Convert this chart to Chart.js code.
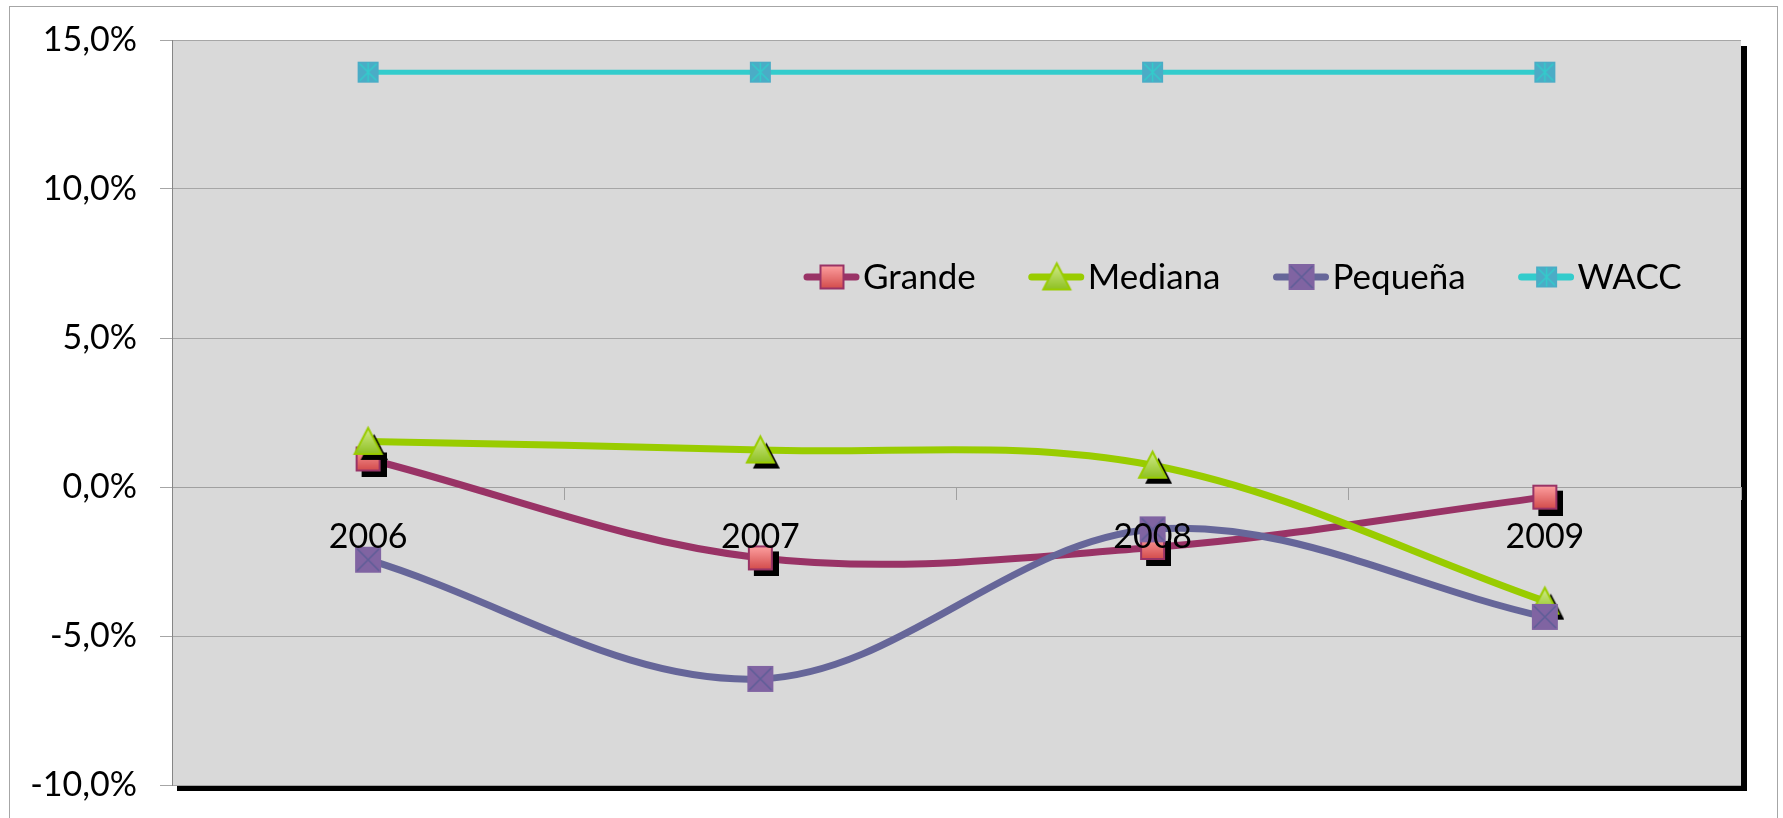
<!DOCTYPE html>
<html>
<head>
<meta charset="utf-8">
<script src="https://cdn.jsdelivr.net/npm/chart.js@4"></script>
<style>
html, body { margin: 0; padding: 0; background: #fff; }
</style>
</head>
<body>
<canvas id="myChart" width="1783" height="818"></canvas>
<script>
// datos (%)
var years = ['2006', '2007', '2008', '2009'];
var grande = [0.94, -2.38, -2.03, -0.34];
var mediana = [1.53, 1.24, 0.73, -3.83];
var pequena = [-2.44, -6.44, -1.42, -4.36];
var wacc = [13.92, 13.92, 13.92, 13.92];
var seriesNames = ['Grande', 'Mediana', 'Pequeña', 'WACC'];
var yTicks = [-10, -5, 0, 5, 10, 15];

var FONT = 'Lato, "Open Sans", sans-serif';
var SH = 6; // desplazamiento de la sombra

// marcadores dibujados en un canvas, con o sin sombra
function makeMarker(kind, shadow) {
    var size = {grande: 25, mediana: 27, pequena: 26, wacc: 21}[kind];
    var c = document.createElement('canvas');
    c.width = size + 2 * SH;
    c.height = size + 2 * SH;
    var g = c.getContext('2d');
    var o = SH;
    function tri(x, y) {
        g.beginPath();
        g.moveTo(x + size / 2, y);
        g.lineTo(x + size, y + size - 1);
        g.lineTo(x, y + size - 1);
        g.closePath();
    }
    if (shadow) {
        g.fillStyle = '#000';
        if (kind == 'mediana') { tri(o + SH, o + SH); g.fill(); }
        else g.fillRect(o + SH, o + SH, size, size);
    }
    if (kind == 'grande') {
        var gr = g.createLinearGradient(0, o, 0, o + size);
        gr.addColorStop(0, '#FFA3A3');
        gr.addColorStop(1, '#D14848');
        g.fillStyle = gr;
        g.fillRect(o, o, size, size);
        g.strokeStyle = '#993366';
        g.lineWidth = 2;
        g.strokeRect(o + 1, o + 1, size - 2, size - 2);
    } else if (kind == 'mediana') {
        var gm = g.createLinearGradient(0, o, 0, o + size);
        gm.addColorStop(0, '#D3EC8C');
        gm.addColorStop(1, '#8CBF1E');
        g.fillStyle = gm;
        tri(o, o);
        g.fill();
        g.strokeStyle = '#99CC00';
        g.lineWidth = 2;
        g.stroke();
    } else if (kind == 'pequena') {
        g.fillStyle = '#8064A2';
        g.fillRect(o, o, size, size);
        g.strokeStyle = '#5E5E98';
        g.lineWidth = 1.5;
        g.beginPath();
        g.moveTo(o + 2, o + 2); g.lineTo(o + size - 2, o + size - 2);
        g.moveTo(o + size - 2, o + 2); g.lineTo(o + 2, o + size - 2);
        g.stroke();
    } else {
        g.fillStyle = '#4BACC6';
        g.fillRect(o, o, size, size);
        g.strokeStyle = '#33CCCC';
        g.lineWidth = 1.5;
        g.beginPath();
        g.moveTo(o + size / 2, o + 1); g.lineTo(o + size / 2, o + size - 1);
        g.moveTo(o + 2, o + 2); g.lineTo(o + size - 2, o + size - 2);
        g.moveTo(o + size - 2, o + 2); g.lineTo(o + 2, o + size - 2);
        g.stroke();
    }
    return c;
}

var kinds = ['grande', 'mediana', 'pequena', 'wacc'];
var legendIcons = kinds.map(function (k) { return makeMarker(k, false); });

// fondo, borde exterior y sombra del área de trazado
var plotBg = {
    id: 'plotBg',
    beforeDraw: function (chart) {
        var ctx = chart.ctx, a = chart.chartArea;
        ctx.save();
        ctx.fillStyle = '#fff';
        ctx.fillRect(0, 0, chart.width, chart.height);
        ctx.strokeStyle = '#A6A6A6';
        ctx.lineWidth = 1;
        ctx.strokeRect(9.5, 6.5, 1768, 900);
        ctx.fillStyle = '#000';
        ctx.fillRect(a.right, a.top + 6, 6, a.bottom - a.top);
        ctx.fillRect(a.left + 5, a.bottom, a.right - a.left + 1, 6);
        ctx.fillStyle = '#D9D9D9';
        ctx.fillRect(a.left, a.top, a.right - a.left, a.bottom - a.top);
        ctx.restore();
    }
};

// leyenda dentro del área de trazado
var innerLegend = {
    id: 'innerLegend',
    afterDraw: function (chart) {
        var ctx = chart.ctx;
        var y = 277;
        var x = 803;
        ctx.save();
        ctx.font = '35px ' + FONT;
        ctx.textBaseline = 'middle';
        chart.data.datasets.forEach(function (ds, i) {
            ctx.strokeStyle = ds.borderColor;
            ctx.lineWidth = 7;
            ctx.lineCap = 'round';
            ctx.beginPath();
            ctx.moveTo(x + 4, y);
            ctx.lineTo(x + 53, y);
            ctx.stroke();
            var ic = legendIcons[i];
            ctx.drawImage(ic, x + 29 - ic.width / 2, y - ic.height / 2);
            ctx.fillStyle = '#000';
            ctx.fillText(ds.label, x + 60, y + 1);
            x += 60 + ctx.measureText(ds.label).width + 52;
        });
        ctx.restore();
    }
};

function ds(label, data, color, width, kind, shadow, order) {
    return {
        label: label,
        data: data,
        borderColor: color,
        backgroundColor: color,
        borderWidth: width,
        tension: 0.35,
        fill: false,
        pointStyle: makeMarker(kind, shadow),
        pointRadius: 12,
        order: order
    };
}

var ctx = document.getElementById('myChart');
var myChart = new Chart(ctx, {
    type: 'line',
    data: {
        labels: years,
        datasets: [
            ds(seriesNames[0], grande, '#993366', 7, 'grande', true, 3),
            ds(seriesNames[1], mediana, '#99CC00', 7, 'mediana', true, 2),
            ds(seriesNames[2], pequena, '#666699', 7, 'pequena', false, 1),
            ds(seriesNames[3], wacc, '#33CCCC', 5, 'wacc', false, 0)
        ]
    },
    options: {
        responsive: false,
        animation: false,
        layout: { padding: { left: 0, top: 40, right: 42, bottom: 33 } },
        plugins: {
            legend: { display: false },
            tooltip: { enabled: false }
        },
        scales: {
            x: {
                position: { y: 0 },
                offset: true,
                grid: {
                    offset: true,
                    drawOnChartArea: false,
                    tickLength: 12,
                    color: '#A0A0A0'
                },
                border: { color: '#A0A0A0' },
                ticks: {
                    z: 1,   // etiquetas por encima de las series, como en Excel
                    color: '#000',
                    padding: 18,
                    maxRotation: 0,
                    font: { family: FONT, size: 34 }
                }
            },
            y: {
                min: -10,
                max: 15,
                afterBuildTicks: function (s) {
                    s.ticks = yTicks.map(function (v) { return { value: v }; });
                },
                afterFit: function (s) {
                    s.width = 172;
                    s.paddingTop = 0;
                    s.paddingBottom = 0;
                },
                grid: { color: '#A6A6A6', tickLength: 12 },
                border: { color: '#868686' },
                ticks: {
                    color: '#000',
                    padding: 23,
                    font: { family: FONT, size: 34 },
                    callback: function (v) { return v.toFixed(1).replace('.', ',') + '%'; }
                }
            }
        }
    },
    plugins: [plotBg, innerLegend]
});
</script>
</body>
</html>
